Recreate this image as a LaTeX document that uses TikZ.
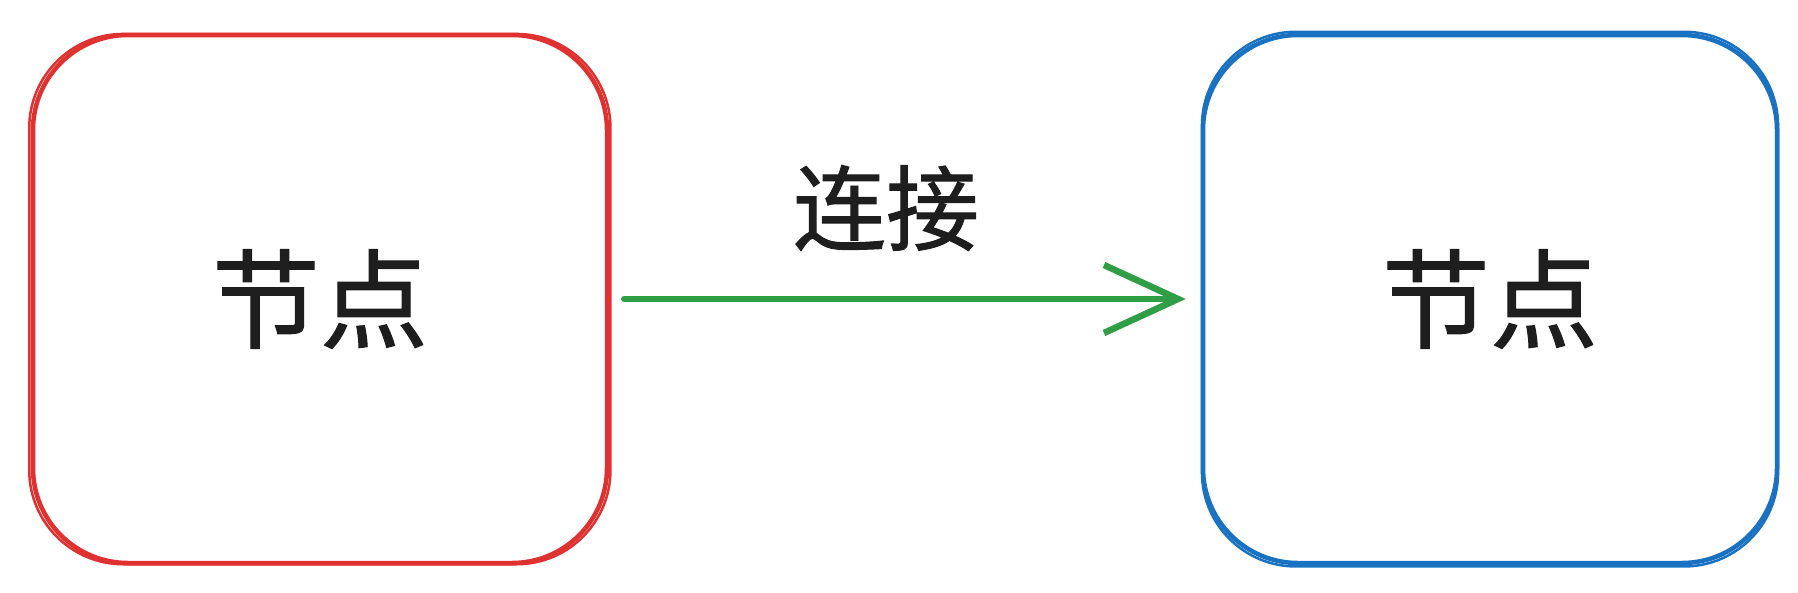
\documentclass[tikz,border=0pt]{standalone}
\usepackage{fontspec}
\newfontfamily\cjk[FakeBold=1]{Noto Sans CJK SC}
\usetikzlibrary{arrows.meta}
\definecolor{exred}{HTML}{E03131}
\definecolor{exblue}{HTML}{1971C2}
\definecolor{exgreen}{HTML}{2F9E44}
\definecolor{exink}{HTML}{1E1E1E}
\tikzset{
  nodebox/.style={draw, rounded corners=95pt, minimum width=574pt, minimum height=528pt,
    line width=4.5pt, inner sep=0pt, text=exink, font=\cjk\fontsize{108}{108}\selectfont},
  sketchline/.style={line width=2.5pt, rounded corners=94pt},
  linklabel/.style={text=exink, font=\cjk\fontsize{93}{93}\selectfont, inner sep=0pt},
  linkarrow/.style={draw=exgreen, line width=6.5pt, line cap=round,
    -{Straight Barb[length=74pt, width=68pt, line width=6.5pt]}}
}
\begin{document}
\begin{tikzpicture}[x=1pt,y=-1pt]
\useasboundingbox (0,0) rectangle (1798,592);
\node[nodebox, draw=exred] (a) at (320,299) {节点};
\node[nodebox, draw=exblue] (b) at (1490,299) {节点};
% sketchy second strokes
\draw[sketchline, exred] ([shift={(-1.5,1.2)}]a.north west) rectangle ([shift={(1.2,-1)}]a.south east);
\draw[sketchline, exblue] ([shift={(1.2,-1)}]b.north west) rectangle ([shift={(-1.2,1.2)}]b.south east);
\draw[linkarrow, shorten <=15pt, shorten >=15pt] (a.east) -- (b.west);
\node[linklabel] (l) at (886,208) {连接};
\end{tikzpicture}
\end{document}
